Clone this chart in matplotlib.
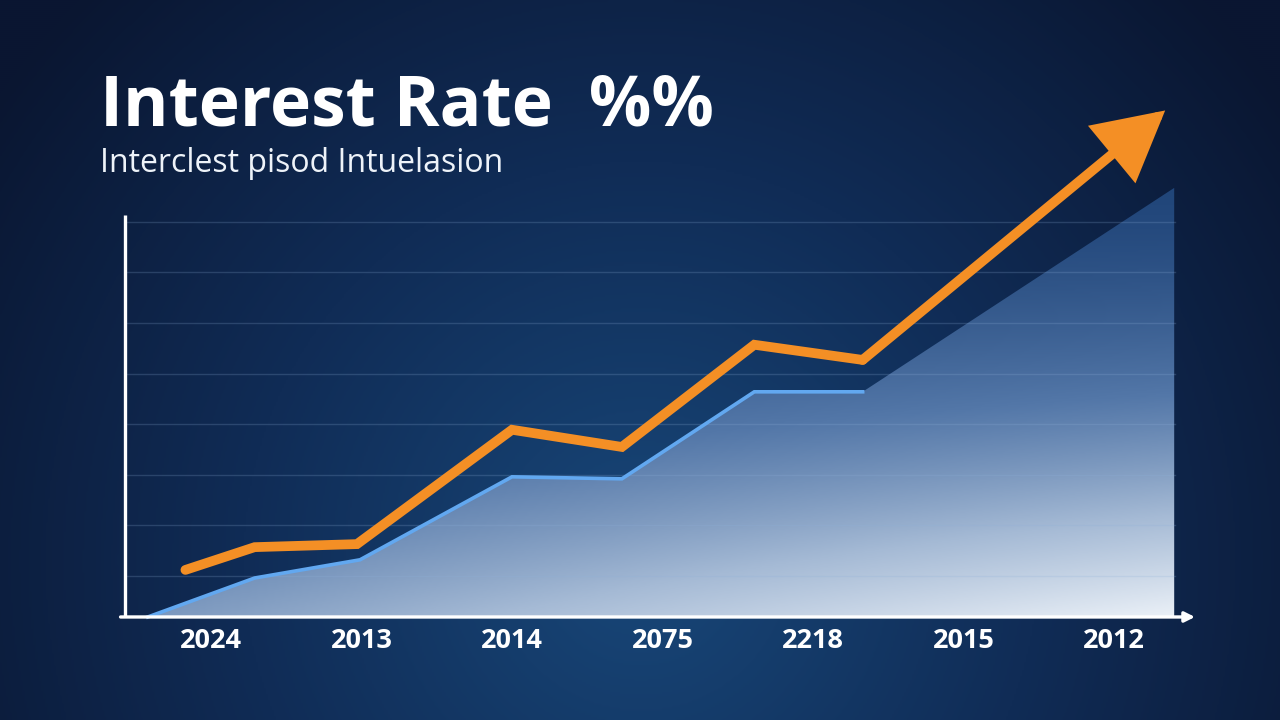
import numpy as np
import matplotlib
matplotlib.use("Agg")
import matplotlib.pyplot as plt
from matplotlib.colors import LinearSegmentedColormap
from matplotlib.patches import Polygon

# --- data (x = category index, y = rate level) ---
years = ["2024", "2013", "2014", "2075", "2218", "2015", "2012"]

orange_x = [-0.17, 0.29, 0.97, 2.0, 2.73, 3.61, 4.33]
orange_y = [1.12, 1.57, 1.63, 3.89, 3.55, 5.57, 5.27]
arrow_tip = (6.34, 10.2)

blue_x = [-0.42, 0.29, 0.99, 2.0, 2.73, 3.61, 4.33, 6.40]
blue_y = [0.19, 0.96, 1.32, 2.96, 2.92, 4.64, 4.64, 8.67]

grid_y = [1, 2, 3, 4, 5, 6, 7, 8]

ORANGE = "#f48f25"
BLUE = "#62a8f0"

XLIM = (-1.402, 7.103)
YLIM = (-1.846, 12.383)
BASE = 0.19       # y of x-axis
LEFT = -0.571     # x of y-axis
RIGHT = 6.538     # end of x-axis arrow
GRID_R = 6.405
TOP = 8.13


def main():
    fig = plt.figure(figsize=(12.8, 7.2), dpi=100)
    ax = fig.add_axes([0, 0, 1, 1])
    ax.set_xlim(*XLIM)
    ax.set_ylim(*YLIM)
    ax.axis("off")

    # --- background: radial navy gradient ---
    h, w = 360, 640
    yy, xx = np.mgrid[0:h, 0:w]
    cx, cy = 0.5 * w, 0.22 * h
    r = np.hypot((xx - cx) / w, (yy - cy) / h * 0.56)
    r = np.clip(r / 0.62, 0, 1)
    bg_cmap = LinearSegmentedColormap.from_list("bg", ["#184779", "#102c56", "#0a1631"])
    ax.imshow(r, cmap=bg_cmap, origin="lower", extent=(*XLIM, *YLIM),
              aspect="auto", zorder=0, interpolation="bilinear")

    # --- area under blue line with diagonal gradient ---
    verts = [(blue_x[0], BASE)] + list(zip(blue_x, blue_y)) + [(blue_x[-1], BASE)]
    clip = Polygon(verts, closed=True, facecolor="none", edgecolor="none")
    ax.add_patch(clip)
    gy, gx = np.mgrid[0:200, 0:300]
    yn = gy / 199.0
    xn = gx / 299.0
    t = (1 - yn) ** 1.5 * (0.5 + 0.5 * xn)
    area_cmap = LinearSegmentedColormap.from_list(
        "area", ["#21467a", "#5377a8", "#a5bad5", "#eaf0f7"])
    im = ax.imshow(t, cmap=area_cmap, vmin=0, vmax=1, origin="lower",
                   extent=(blue_x[0], blue_x[-1], BASE, blue_y[-1]),
                   aspect="auto", zorder=1, interpolation="bilinear")
    im.set_clip_path(clip)

    # grid lines
    for gyv in grid_y:
        ax.plot([LEFT, GRID_R], [gyv, gyv], color="#8fb0d8", alpha=0.22, lw=1, zorder=2)

    # blue line
    ax.plot(blue_x[:-1], blue_y[:-1], color=BLUE, lw=2.6, zorder=3,
            solid_joinstyle="miter")

    # orange line + arrow
    ax.plot(orange_x, orange_y, color=ORANGE, lw=7, zorder=4,
            solid_joinstyle="miter", solid_capstyle="round")
    ax.annotate("", xy=arrow_tip, xytext=(orange_x[-1], orange_y[-1]), zorder=4,
                arrowprops=dict(arrowstyle="-|>,head_length=0.78,head_width=0.42",
                                mutation_scale=50, color=ORANGE, lw=7,
                                shrinkA=0, shrinkB=0, joinstyle="miter"))

    # axes
    ax.plot([LEFT, LEFT], [BASE, TOP], color="white", lw=2.4, zorder=5,
            solid_capstyle="butt")
    ax.annotate("", xy=(RIGHT, BASE), xytext=(LEFT - 0.03, BASE), zorder=5,
                arrowprops=dict(arrowstyle="-|>,head_length=0.5,head_width=0.25",
                                mutation_scale=12, color="white", lw=2.4,
                                shrinkA=0, shrinkB=0))

    # tick labels
    for i, lab in enumerate(years):
        ax.text(i, -0.285, lab, ha="center", va="center", color="white",
                fontsize=19.5, fontweight="bold", family="Open Sans", zorder=6)

    # titles
    fig.text(100 / 1280, 1 - 125 / 720, "Interest Rate  %%", color="white",
             fontsize=50, fontweight="bold", family="Open Sans", va="baseline")
    fig.text(100 / 1280, 1 - 172 / 720, "Interclest pisod Intuelasion",
             color="#eef3f9", fontsize=23, family="Open Sans", va="baseline")

    fig.savefig("out.png", dpi=100)


if __name__ == "__main__":
    main()
